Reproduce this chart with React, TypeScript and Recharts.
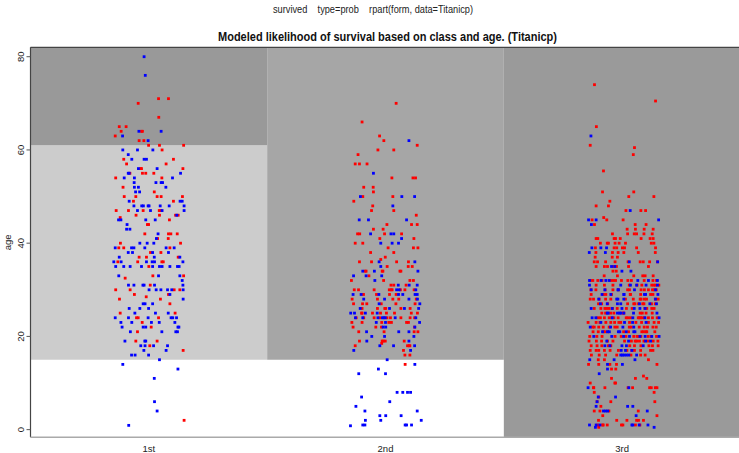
import { ScatterChart, Scatter, XAxis, YAxis, ReferenceArea, ReferenceLine } from "recharts";

// ── labels ────────────────────────────────────────────────────────
const CLASSES = ["1st", "2nd", "3rd"];
const AGE_TICKS = [0, 20, 40, 60, 80];
const AGE_MIN = -1.64;
const AGE_MAX = 82.02;

// rpart prediction regions: class, age range, shade of the predicted probability
const REGIONS = [
  { cls: 1, from: AGE_MIN, to: 15, shade: "#ffffff" },
  { cls: 1, from: 15, to: 61, shade: "#cccccc" },
  { cls: 1, from: 61, to: AGE_MAX, shade: "#999999" },
  { cls: 2, from: AGE_MIN, to: 15, shade: "#ffffff" },
  { cls: 2, from: 15, to: AGE_MAX, shade: "#a6a6a6" },
  { cls: 3, from: AGE_MIN, to: AGE_MAX, shade: "#9a9a9a" },
];

// passengers: [age, jitter offsets around the class position]
type Row = [number, number[]];

const FIRST_SURVIVED: Row[] = [
  [80, [-0.02]], [76, [-0.015]], [64, [0.052, -0.042]], [63, [-0.111]], [62, [-0.003]],
  [60, [-0.11, -0.048, 0.017]], [59, [-0.087]], [58, [-0.072, -0.02, -0.01]], [56, [-0.044, 0.035]],
  [55, [-0.087, -0.083, 0.134]], [54, [-0.104, -0.061, 0.1]], [53, [-0.062, 0.03, 0.052, 0.058]],
  [52, [-0.044, -0.061, 0.072]], [51, [-0.056, -0.039]], [49, [-0.083, 0.132, 0.141]],
  [48, [-0.063, -0.03, -0.023, -0.003, 0.001, 0.048, 0.086, 0.149]], [47, [-0.048, 0.007, 0.056, 0.149]],
  [46, [0.118]], [45, [-0.128, -0.118, -0.013, 0.027]], [44, [-0.092]], [43, [-0.094, -0.08]],
  [42, [0.039]], [41, [0.032]], [40, [-0.038, -0.007, 0.021]],
  [39, [-0.142, -0.073, -0.063, -0.017, 0.073, 0.107]], [38, [-0.087, -0.069, 0.016, 0.083]],
  [37, [-0.125, 0.023, 0.131]], [36, [-0.148, -0.117, -0.01, 0.014, 0.024, 0.144]],
  [35, [-0.14, -0.106, -0.079, -0.031, 0.016, 0.045, 0.056, 0.089, 0.121, 0.128]],
  [33, [-0.127, 0.041, 0.131]], [32, [0.141]], [31, [-0.086, -0.063, -0.025, -0.02, 0.024, 0.144]],
  [30, [0.001, 0.031, 0.051, 0.079, 0.097, 0.145]], [29, [0.089]], [28, [0.145]],
  [27, [-0.024, -0.016, 0.016]], [26, [-0.083, -0.038, -0.001]], [25, [-0.059, 0.028, 0.082]],
  [24, [-0.142, -0.086, -0.003, 0.094, 0.101, 0.117]], [23, [-0.118, -0.072, 0.011, 0.044, 0.11]],
  [22, [-0.113, -0.024, -0.013, 0.123, 0.127]], [21, [-0.078, 0.055, 0.114, 0.121]],
  [19, [-0.101, -0.017, -0.013]], [18, [-0.034, -0.016, 0.02, 0.079]], [17, [-0.021, 0.073]],
  [16, [-0.073, -0.058, -0.001]], [15, [0.045]], [14, [-0.11]], [13, [0.123]], [11, [0.023]],
  [6, [0.024]], [4, [0.035]], [0.92, [-0.085]],
];

const FIRST_DIED: Row[] = [
  [71, [0.041, 0.083]], [70, [-0.045]], [67, [0.042]], [65, [-0.125, -0.096]],
  [64, [-0.117, -0.031, -0.027]], [63, [-0.142]], [62, [-0.041, -0.021]], [61, [-0.001, 0.045, 0.147]],
  [60, [0.056]], [58, [-0.106, 0.104]], [57, [-0.094, 0.073]], [56, [-0.035, -0.031, 0.144]],
  [55, [-0.08, -0.027, -0.013, 0.021]], [54, [-0.14, 0.055]], [52, [-0.109]], [51, [0.023]],
  [50, [-0.104, -0.055, 0.035, 0.052, 0.142]], [49, [-0.065, 0.104]],
  [47, [-0.138, -0.086, -0.024, 0.044, 0.051]], [46, [-0.054, 0.045, 0.113, 0.124]],
  [45.5, [-0.121]], [45, [0.087]], [44, [-0.006, -0.001]], [42, [-0.017, 0.083, 0.093, 0.12]],
  [41, [0.037, 0.082]], [40, [-0.12, 0.134]], [39, [-0.127, -0.106, 0.089]], [38, [0.007, 0.051]],
  [37, [-0.041, -0.01, 0.124]], [36, [-0.131, -0.047, 0.055, 0.061]], [35, [0]],
  [33, [0.017, 0.147]], [32.5, [-0.1]], [31, [0.006]], [30, [-0.14, -0.079, 0.107, 0.131]],
  [29, [-0.061, 0.083]], [28.5, [-0.011]], [28, [-0.124, 0.049]], [27, [0.089]],
  [25, [-0.121, 0.111]], [24, [-0.052, -0.045, 0.041]], [23, [-0.028]], [22, [0.01]],
  [21, [-0.048]], [19, [-0.055, 0.035]], [18, [0.004]], [17, [0.145]], [2, [0.149]],
];

const SECOND_SURVIVED: Row[] = [
  [62, [0.099]], [55, [-0.051]], [50, [-0.106, 0.069, 0.123]], [48, [0.031]],
  [45, [-0.111, -0.072, 0.089]], [42, [-0.063, 0.023, 0.035]], [41, [0.068]],
  [40, [-0.02, 0.028, 0.055]], [36, [-0.027, 0.124]], [35, [-0.02]], [34, [-0.096, -0.047, 0.137]],
  [33, [-0.135, -0.082, -0.016]], [32, [-0.045]], [31, [0.054, 0.1, 0.134]], [30, [0.047, 0.058, 0.128]],
  [29, [-0.137, -0.103, -0.028, 0.055, 0.073, 0.125, 0.134]], [28, [-0.092, -0.004, 0.099, 0.135]],
  [27, [-0.027, 0.145]], [26, [-0.107, 0.017, 0.08, 0.14]], [25, [-0.147, -0.131, -0.085, -0.035]],
  [24, [-0.127, -0.096, -0.032, -0.013, -0.007, -0.001, 0.041, 0.128]], [23, [-0.039, 0, 0.144]],
  [22, [-0.01, 0.001, 0.124]], [21, [-0.08, 0.056, 0.099]], [20, [-0.058, -0.004, 0.12]],
  [19, [-0.079, 0.099]], [18, [-0.024, 0.034, 0.123]], [17, [-0.134, 0.106]], [15, [0.007]],
  [14, [0.124]], [13, [-0.03]], [12, [-0.113, 0]], [8, [0.049, 0.073, 0.093, 0.106]], [7, [-0.101]],
  [6, [0.018]], [5, [-0.125]], [4, [-0.087, 0.134]], [3, [-0.024, 0.001, 0.066]],
  [2, [-0.085, -0.02, 0.151]], [1, [-0.096, -0.087, 0.083, 0.089, 0.11]], [0.83, [-0.148]],
];

const SECOND_DIED: Row[] = [
  [70, [0.045]], [66, [-0.099]], [63, [-0.025]], [62, [-0.007]], [61, [0.134]], [60, [-0.032, 0.035]],
  [59, [-0.116]], [57, [-0.128, -0.11, -0.078]], [54, [0.027, 0.116, 0.127]], [52, [-0.092, -0.052]],
  [51, [-0.051]], [50, [-0.096, 0.031]], [49, [-0.134]], [48, [-0.054]], [47, [-0.059, 0.035]],
  [46, [0.13]], [44, [0.006, 0.11, 0.134]], [43, [-0.051, -0.01]], [42, [-0.118, -0.109, -0.004, 0.068]],
  [41, [-0.024, 0.12]], [40, [-0.128, -0.096]], [39, [0.011, 0.118, 0.137]], [38, [-0.063, 0.035]],
  [37, [-0.001]], [36.5, [-0.02]], [36, [-0.11, -0.059, 0.047, 0.097]], [35, [0.007, 0.096, 0.113]],
  [34, [-0.086, -0.082, -0.014, -0.011, 0.061, 0.065]], [33, [-0.07]], [32, [-0.144, -0.008, 0.103, 0.118]],
  [31, [0.023, 0.035, 0.087]], [30, [-0.132, -0.114, -0.048, 0.016, 0.024, 0.028, 0.063, 0.082, 0.121]],
  [29, [-0.093, -0.038, 0.017, 0.045]], [28, [-0.141, -0.034, 0.031, 0.056, 0.13]],
  [27, [-0.135, -0.097, -0.079, -0.018, 0.044, 0.125]], [26, [-0.099, -0.034, -0.003, 0.001, 0.065, 0.104]],
  [25, [-0.101, -0.099, -0.055, -0.021, 0.004, 0.038, 0.109, 0.135]],
  [24, [-0.124, -0.092, -0.048, -0.024, 0.006, 0.021, 0.065, 0.104, 0.123]],
  [23, [-0.142, -0.099, -0.016, 0.014, 0.025, 0.089, 0.097]], [22, [-0.137, -0.041, -0.017, 0.123]],
  [21, [-0.113, -0.006, 0.121, 0.137]], [19, [-0.11, -0.014, -0.01, -0.001, 0.079]], [18.5, [-0.016]],
  [18, [-0.128, 0.093, 0.1, 0.103]], [17, [0.076]], [16, [0.082, 0.103]], [14, [0.083]],
];

const THIRD_SURVIVED: Row[] = [
  [63, [-0.132]], [47, [0.034]], [45, [-0.142, -0.11, 0.154]], [44, [-0.13]],
  [39, [-0.128, -0.09, -0.066]], [38, [-0.139, -0.071]], [36, [0.03, 0.15]], [35, [-0.045, -0.031]],
  [34, [-0.001, 0.037]], [32, [-0.138, -0.089, -0.069, -0.055, 0.066, 0.111, 0.149]],
  [31, [-0.138, -0.006, 0.035, 0.061, 0.101, 0.149]], [30, [-0.131, -0.073, -0.018, -0.016, 0.052, 0.141]],
  [29, [-0.085, -0.048, 0.007, 0.008, 0.094, 0.099, 0.151]], [28, [-0.099, -0.023, -0.018, 0.007, 0.141]],
  [27, [-0.092, -0.063, -0.02, -0.006, 0.073, 0.117, 0.145]], [26, [-0.131, -0.042, -0.001, 0.051, 0.075, 0.097]],
  [25, [-0.063, -0.059, -0.02, -0.011, -0.006, 0.007, 0.048, 0.147]],
  [24, [-0.127, -0.111, -0.042, 0.045, 0.096, 0.156]], [23, [-0.09, 0.01, 0.044, 0.101]],
  [22, [-0.135, -0.049, 0.003, 0.049]], [21, [-0.083, -0.062, -0.054, -0.016, -0.01, 0.017, 0.049, 0.054]],
  [20, [-0.12, -0.044, 0.006, 0.031, 0.075, 0.097, 0.125, 0.156]], [19, [-0.065, 0.027, 0.099, 0.12]],
  [18, [-0.073, -0.052, -0.001, 0.018, 0.089]], [17, [-0.004, 0.014, 0.041]],
  [16, [-0.006, 0.001, 0.008, 0.018, 0.028, 0.061]], [15, [-0.137, -0.034, 0.054]], [14, [-0.062, 0.001]],
  [13, [-0.062]], [12, [-0.097]], [9, [-0.144, 0.028]], [7, [-0.101, -0.028]], [6, [-0.106]],
  [5, [-0.11, 0.023, 0.045]], [4, [-0.079, -0.07, -0.061, 0.106]], [3, [0.059]],
  [1, [-0.138, -0.11, -0.094, 0.041, 0.045, 0.072, 0.109]], [0.5, [-0.113, 0.135]],
];

const THIRD_DIED: Row[] = [
  [74, [-0.117]], [70.5, [0.141]], [65, [-0.109]], [61, [-0.135]], [60.5, [0.052]], [59, [0.047]],
  [55.5, [-0.079]], [51, [-0.083, 0.049]], [50, [0.028, 0.134]], [49, [-0.052]], [48, [-0.11, -0.058]],
  [47, [0.016, 0.079, 0.099]], [45.5, [-0.078]], [45, [-0.127, -0.065, 0.004]], [44, [-0.117, 0.055, 0.101]],
  [43, [0.021, 0.056, 0.093, 0.131]], [42, [-0.041, 0.023, 0.051, 0.061, 0.092, 0.127]],
  [41, [-0.11, -0.103, -0.034, -0.028, -0.008, 0.08, 0.118, 0.131]],
  [40, [-0.092, -0.063, -0.058, -0.03, -0.013, 0.014, 0.123, 0.134]],
  [39, [-0.113, -0.034, -0.023, 0.001, 0.01, 0.061, 0.141]],
  [38, [-0.111, -0.041, -0.017, 0.007, 0.068, 0.14]], [37, [-0.114, -0.042, -0.02]],
  [36, [-0.118, -0.104, -0.07, -0.03, 0.025, 0.076, 0.089, 0.116, 0.149]],
  [35, [-0.11, -0.075, -0.062, -0.037, -0.024, 0.027, 0.111]], [34, [-0.039, -0.025]],
  [33, [-0.076, -0.02, 0.049, 0.087, 0.097, 0.131]],
  [32, [-0.134, -0.124, -0.103, -0.085, -0.048, -0.037, -0.028, -0.003, 0.024, 0.039, 0.093, 0.13, 0.145]],
  [31, [-0.11, -0.075, -0.039, 0.03, 0.063, 0.083, 0.125, 0.134, 0.141, 0.155]],
  [30, [-0.132, -0.111, -0.072, -0.039, -0.016, 0.023, 0.031, 0.08, 0.094, 0.111, 0.128, 0.135, 0.144]],
  [29, [-0.131, -0.079, -0.069, -0.045, 0.034, 0.035, 0.078, 0.12, 0.13]],
  [28, [-0.135, -0.121, -0.097, -0.07, -0.048, 0.014, 0.047, 0.076, 0.08, 0.094, 0.103, 0.14, 0.152]],
  [27, [-0.1, -0.087, -0.061, 0.023, 0.049, 0.054, 0.069, 0.087, 0.092, 0.124, 0.14]],
  [26, [-0.118, -0.09, -0.073, -0.065, -0.055, -0.041, -0.021, 0.018, 0.042, 0.096, 0.104, 0.125, 0.135]],
  [25, [-0.086, -0.07, -0.049, -0.035, 0.003, 0.007, 0.076, 0.085, 0.101, 0.127]],
  [24, [-0.103, -0.092, -0.075, -0.055, -0.044, -0.035, -0.017, 0.017, 0.024, 0.035, 0.068, 0.073, 0.078, 0.085, 0.094, 0.111, 0.128, 0.148]],
  [23, [-0.144, -0.11, -0.094, -0.069, -0.048, -0.032, -0.014, -0.006, 0.031, 0.058, 0.082, 0.111, 0.135, 0.154]],
  [22, [-0.125, -0.118, -0.099, -0.08, -0.055, -0.031, -0.021, 0.03, 0.038, 0.072, 0.093, 0.107, 0.13, 0.144]],
  [21, [-0.123, -0.101, -0.079, -0.072, -0.061, 0.006, 0.027, 0.083, 0.09, 0.1, 0.104, 0.138]],
  [20, [-0.137, -0.107, -0.085, -0.03, -0.004, 0.016, 0.049, 0.063, 0.07, 0.079, 0.11, 0.123, 0.145]],
  [19, [-0.14, -0.109, -0.087, -0.062, -0.039, 0.01, 0.039, 0.055, 0.061, 0.073, 0.092, 0.109, 0.131, 0.151]],
  [18, [-0.131, -0.106, -0.086, -0.058, -0.048, 0.032, 0.052, 0.079, 0.113, 0.128, 0.152]],
  [17, [-0.135, -0.11, -0.099, -0.075, -0.051, -0.016, 0.02, 0.041, 0.052, 0.078, 0.12, 0.13]],
  [16, [-0.13, -0.097, -0.07, -0.023, 0.037, 0.078, 0.097]], [15, [-0.101, -0.075, 0.111]],
  [14, [-0.142, -0.099, -0.052, -0.024, 0.147]], [13, [-0.045, -0.027]], [11.5, [0.09]],
  [11, [-0.045, 0.056, 0.104]], [10, [-0.135, -0.031, -0.028]],
  [9, [-0.121, -0.12, -0.073, 0.025, 0.044, 0.116, 0.123, 0.14, 0.147]], [8, [-0.118, 0.135]],
  [7, [-0.099]], [6, [-0.106, -0.048, 0.138]], [5, [-0.09]], [4, [-0.118, -0.094, -0.056, 0.068]],
  [3, [-0.082, 0.147]], [2, [-0.1, -0.023, 0.02, 0.061, 0.069, 0.09]],
  [1, [-0.103, -0.083, -0.08, -0.063, -0.003, 0.003, 0.056, 0.075]], [0.5, [-0.099]],
];

const RED = "#ff0000";
const BLUE = "#0000ff";
const FONT = "'Liberation Sans', Arial, sans-serif";

function toPoints(cls: number, rows: Row[]) {
  return rows.flatMap(([age, offs]) => offs.map((o) => ({ x: cls + o, age })));
}

const died = [...toPoints(1, FIRST_DIED), ...toPoints(2, SECOND_DIED), ...toPoints(3, THIRD_DIED)];
const survived = [
  ...toPoints(1, FIRST_SURVIVED),
  ...toPoints(2, SECOND_SURVIVED),
  ...toPoints(3, THIRD_SURVIVED),
];

const Dot = (p: any) => (
  <rect x={p.cx - 1.4} y={p.cy - 1.4} width={2.8} height={2.8} fill={p.fill} />
);

const XTick = (p: any) => (
  <text x={p.x} y={452} textAnchor="middle" fontSize={9.5} fontFamily={FONT} fill="#222">
    {CLASSES[p.payload.value - 1]}
  </text>
);

const YTick = (p: any) => (
  <text
    x={p.x}
    y={p.y}
    transform={`rotate(-90 ${p.x} ${p.y})`}
    textAnchor="middle"
    fontSize={9.5}
    fontFamily={FONT}
    fill="#222"
  >
    {p.payload.value}
  </text>
);

const AgeLabel = (p: any) => {
  const cy = p.viewBox.y + p.viewBox.height / 2;
  return (
    <text x={11.5} y={cy} transform={`rotate(-90 11.5 ${cy})`} textAnchor="middle" fontSize={9.5} fontFamily={FONT} fill="#222">
      age
    </text>
  );
};

export default function App() {
  return (
    <div style={{ position: "absolute", left: 0, top: 0, width: 739, height: 453, overflow: "hidden", background: "#fff" }}>
      <ScatterChart width={742} height={453} margin={{ top: 47.3, right: 1.5, bottom: 0, left: 0 }}>
        <XAxis
          type="number"
          dataKey="x"
          domain={[0.5, 3.5]}
          ticks={[1, 2, 3]}
          interval={0}
          allowDataOverflow
          height={15.7}
          axisLine={false}
          tickLine={false}
          tick={<XTick />}
        />
        <YAxis
          type="number"
          dataKey="age"
          domain={[AGE_MIN, AGE_MAX]}
          ticks={AGE_TICKS}
          interval={0}
          allowDataOverflow
          width={30.5}
          axisLine={false}
          tickSize={4}
          tickMargin={2}
          tickLine={{ stroke: "#555" }}
          tick={<YTick />}
          label={<AgeLabel />}
        />
        {REGIONS.map((r, i) => (
          <ReferenceArea
            key={i}
            x1={r.cls - 0.5}
            x2={r.cls + 0.5}
            y1={r.from}
            y2={r.to}
            fill={r.shade}
            fillOpacity={1}
            stroke="none"
          />
        ))}
        <ReferenceLine y={AGE_MAX} stroke="#444" strokeWidth={1.2} />
        <ReferenceLine x={0.5} stroke="#444" strokeWidth={1.2} />
        <ReferenceLine y={AGE_MIN} stroke="#aaaaaa" strokeWidth={1.5} />
        <Scatter data={died} fill={RED} shape={Dot} isAnimationActive={false} />
        <Scatter data={survived} fill={BLUE} shape={Dot} isAnimationActive={false} />
      </ScatterChart>
      <svg width={739} height={47} style={{ position: "absolute", left: 0, top: 0 }}>
        <text x={373} y={13} textAnchor="middle" fontSize={10} fontFamily={FONT} fill="#222" textLength={200} lengthAdjust="spacingAndGlyphs" style={{ whiteSpace: "pre" }}>
          {"survived    type=prob    rpart(form, data=Titanicp)"}
        </text>
        <text x={387.5} y={41} textAnchor="middle" fontSize={12} fontWeight="bold" fontFamily={FONT} fill="#111" textLength={339} lengthAdjust="spacingAndGlyphs">
          Modeled likelihood of survival based on class and age. (Titanicp)
        </text>
      </svg>
    </div>
  );
}
